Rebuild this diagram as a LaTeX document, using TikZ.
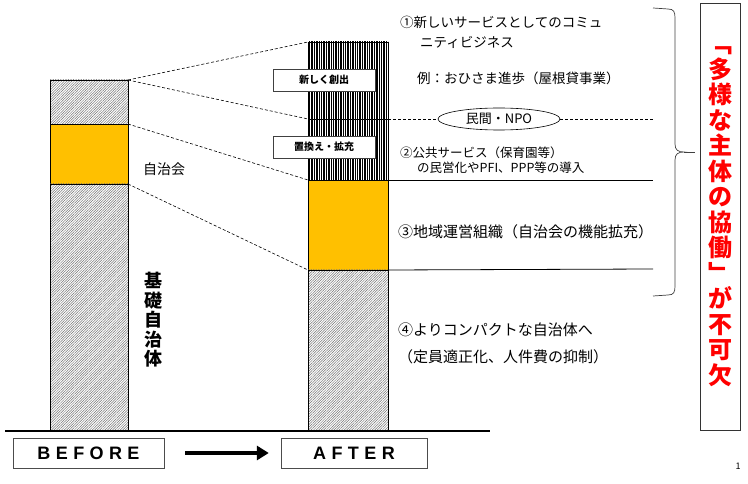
\documentclass[tikz,border=0pt]{standalone}
\usepackage{fontspec}
\setmainfont{Noto Sans CJK JP}
\newfontfamily\latinfont[LetterSpace=30]{Liberation Sans}
\usetikzlibrary{positioning,patterns.meta,shapes.geometric,arrows.meta}
\definecolor{jichi}{HTML}{FFC000}

\begin{document}
\begin{tikzpicture}[x=1pt, y=-1pt, >={Triangle[length=12pt,width=14pt]},
		seg/.style={draw, line width=0.8pt, inner sep=0pt, outer sep=0pt, anchor=north west},
		hatch/.style={pattern={Lines[angle=45,distance=1.8pt,line width=0.5pt]}, pattern color=black!55},
		stripes/.style={pattern={Lines[angle=90,distance=2.4pt,line width=1.4pt]}},
		cut/.style={dashed, dash pattern=on 3pt off 2pt, line width=0.6pt},
		tag/.style={draw=black!75, fill=white, minimum width=102pt, minimum height=22pt, inner sep=0pt, font=\bfseries\fontsize{10}{10}\selectfont},
		txt/.style={anchor=west, inner sep=0pt, font=\fontsize{13.5}{14}\selectfont},
		stage/.style={draw=black!70, minimum height=30pt, inner sep=0pt, font=\latinfont\bfseries\fontsize{18}{18}\selectfont}]
		\useasboundingbox (0,0) rectangle (748,484);
		\node[seg, hatch, minimum width=78pt, minimum height=44pt] (b1) at (50,80) {};
		\node[seg, fill=jichi, minimum width=78pt, minimum height=60pt, below=0pt of b1] (b2) {};
		\node[seg, hatch, minimum width=78pt, minimum height=246pt, below=0pt of b2] (b3) {};
		\node[seg, stripes, minimum width=80pt, minimum height=138pt] (a1) at (308,42) {};
		\node[seg, fill=jichi, minimum width=80pt, minimum height=90pt, below=0pt of a1] (a2) {};
		\node[seg, hatch, minimum width=80pt, minimum height=160pt, below=0pt of a2] (a3) {};
		\node[font=\fontsize{14}{14}\selectfont] (kai) at (164,169) {自治会};
		\node[align=center, font=\bfseries\fontsize{18}{19.5}\selectfont] (base) at (153,320) {基\\礎\\自\\治\\体};
		\coordinate (cut) at (308,119);
		\coordinate (cutr) at (388,119);
		\coordinate (npoend) at (653,119);
		\coordinate (l1) at (653,180);
		\coordinate (l2) at (653,269);
		\draw[cut] (b1.north east) -- (a1.north west);
		\draw[cut] (b1.north east) -- (cut);
		\draw[cut] (b2.north east) -- (a2.north west);
		\draw[cut] (b3.north east) -- (a3.north west);
		\draw[line width=0.8pt] (cut) -- (cutr);
		\node[tag] (new) at (324,80) {新しく創出};
		\node[tag] (swap) at (324,147) {置換え・拡充};
		\node[ellipse, draw, line width=0.6pt, minimum width=122pt, minimum height=22pt, inner sep=0pt, font=\fontsize{13}{13}\selectfont] (npo) at (499,119) {民間・NPO};
		\draw[cut] (cutr) -- (npo.west);
		\draw[cut] (npo.east) -- (npoend);
		\draw[line width=0.8pt] (a2.north east) -- (l1);
		\draw[line width=0.8pt] (a3.north east) -- (l2);
		\node[txt] (t1) at (400,22) {①新しいサービスとしてのコミュ};
		\node[txt] (t1b) at (420,42) {ニティビジネス};
		\node[txt] (ex) at (417,78) {例：おひさま進歩（屋根貸事業）};
		\node[txt, font=\fontsize{12.5}{13}\selectfont] (t2) at (400,153) {②公共サービス（保育園等）};
		\node[txt, font=\fontsize{12.5}{13}\selectfont] (t2b) at (417,168) {の民営化やPFI、PPP等の導入};
		\node[txt, font=\fontsize{15}{15}\selectfont] (t3) at (398,232) {③地域運営組織（自治会の機能拡充）};
		\node[txt, font=\fontsize{15}{15}\selectfont] (t4) at (398,330) {④よりコンパクトな自治体へ};
		\node[txt, font=\fontsize{15}{15}\selectfont] (t4b) at (398,357) {（定員適正化、人件費の抑制）};
		\draw[line width=0.7pt, black!75] (653,8) -- (668,9) .. controls (674,9) and (675,12) .. (675,18) -- (675,144) .. controls (675,150) and (678,152) .. (684,152) .. controls (678,152) and (675,154) .. (675,160) -- (675,286) .. controls (675,292) and (674,295) .. (668,295) -- (653,296);
		\coordinate (tip) at (684,152);
		\coordinate (tipend) at (695,152);
		\draw[line width=0.7pt, black!75] (tip) -- (tipend);
		\node[draw=black!80, line width=0.8pt, minimum width=40pt, minimum height=427pt, inner sep=0pt, align=center, text=red, font=\bfseries\fontsize{24}{25.5}\selectfont] (key) at (720,216.5) {﹁\\多\\様\\な\\主\\体\\の\\協\\働\\﹂\\が\\不\\可\\欠};
		\coordinate (gl) at (5,431);
		\coordinate (gr) at (490,431);
		\draw[line width=1.8pt] (gl) -- (gr);
		\node[stage, minimum width=151pt] (before) at (88.5,453) {BEFORE};
		\node[stage, minimum width=146pt] (after) at (354,453) {AFTER};
		\draw[->, line width=3.5pt, shorten <=21pt, shorten >=12pt] (before) -- (after);
		\node[font=\fontsize{9}{9}\selectfont] (pg) at (738,466) {1};
	\end{tikzpicture}
\end{document}
